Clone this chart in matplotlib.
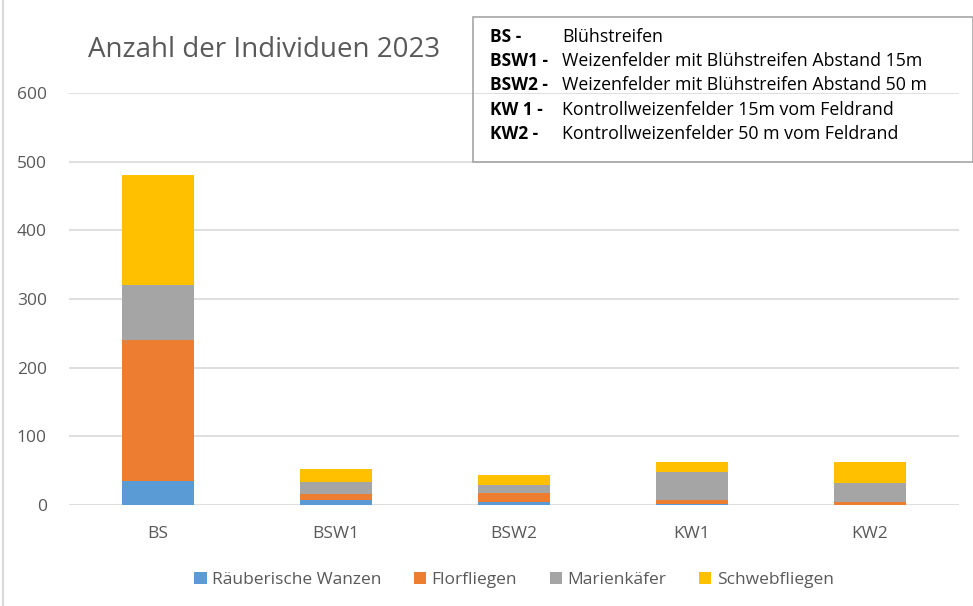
import numpy as np
import matplotlib
matplotlib.use("Agg")
from matplotlib import pyplot as plt
from matplotlib.patches import Rectangle

plt.rcParams['font.family'] = ['Open Sans', 'DejaVu Sans']

# Data
categories = ["BS", "BSW1", "BSW2", "KW1", "KW2"]
wanzen = [35, 7, 4, 1, 0]
florfliegen = [205, 9, 14, 7, 5]
marienkaefer = [80, 17, 11, 40, 27]
schwebfliegen = [160, 20, 14, 14, 30]
series_names = ["Räuberische Wanzen", "Florfliegen", "Marienkäfer", "Schwebfliegen"]
series_colors = ["#5B9BD5", "#ED7D31", "#A5A5A5", "#FFC000"]
y_ticks = [0, 100, 200, 300, 400, 500, 600]
abbrev = ["BS -", "BSW1 -", "BSW2 -", "KW 1 -", "KW2 -"]
descriptions = ["Blühstreifen",
                "Weizenfelder mit Blühstreifen Abstand 15m",
                "Weizenfelder mit Blühstreifen Abstand 50 m",
                "Kontrollweizenfelder 15m vom Feldrand",
                "Kontrollweizenfelder 50 m vom Feldrand"]

W, H = 973, 606
fig = plt.figure(figsize=(W / 100, H / 100), dpi=100)
ax = fig.add_axes([69 / W, (H - 505) / H, 890 / W, 412 / H])

x = np.arange(len(categories))
bottom = np.zeros(len(categories))
for vals, name, col in zip([wanzen, florfliegen, marienkaefer, schwebfliegen],
                           series_names, series_colors):
    ax.bar(x, vals, width=0.4, bottom=bottom, color=col, label=name, zorder=3)
    bottom += np.array(vals)

ax.set_xlim(-0.5, len(categories) - 0.5)
ax.set_ylim(0, 600)
ax.set_yticks(y_ticks)
ax.set_xticks(x)
ax.set_xticklabels(categories)
ax.grid(axis='y', color='#D9D9D9', linewidth=1.2, zorder=0)
for s in ax.spines.values():
    s.set_visible(False)
ax.tick_params(length=0, labelsize=12.5, colors='#595959', pad=16)
ax.tick_params(axis='x', pad=15)

fig.text(88 / W, 1 - 50 / H, "Anzahl der Individuen 2023", fontsize=20,
         color='#595959', va='center', ha='left')

ax.legend(loc='upper center', bbox_to_anchor=(0.5, -0.125), ncol=4, frameon=False,
          fontsize=12.5, labelcolor='#595959', handlelength=0.7, handleheight=0.7,
          handletextpad=0.3, columnspacing=1.9)

# explanation box
box = Rectangle((473 / W, 1 - 162 / H), 500 / W, 145 / H, transform=fig.transFigure,
                facecolor='none', edgecolor='#A6A6A6', linewidth=1.2)
fig.add_artist(box)
for i, (a, d) in enumerate(zip(abbrev, descriptions)):
    yy = 1 - (37 + i * 24.2) / H
    fig.text(490 / W, yy, a, fontsize=12.5, fontweight='bold', va='center', color='black')
    fig.text(562 / W, yy, d, fontsize=12.8, va='center', color='black')

fig.add_artist(plt.Line2D([3 / W, 3 / W], [0, 1], transform=fig.transFigure,
                          color='#D9D9D9', linewidth=1.5))

fig.savefig("out.png", dpi=100)
